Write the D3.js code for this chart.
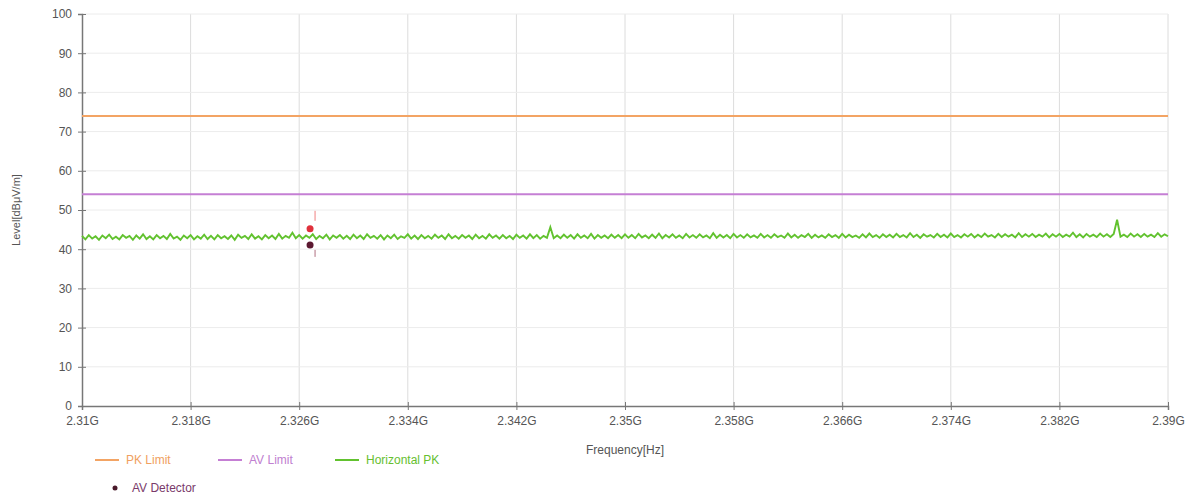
<!DOCTYPE html>
<html>
<head>
<meta charset="utf-8">
<script src="https://cdn.jsdelivr.net/npm/d3@7"></script>
<style>
  body { margin: 0; background: #fff; }
  svg { font-family: "Liberation Sans", Arial, sans-serif; }
</style>
</head>
<body>
<div id="chart"></div>
<script>
// frequency sweep, GHz
const freqStart = 2.31;
const freqStep = 0.00025;
const horizontalPK = [
  43.4,42.5,43.6,42.7,43.3,42.4,43.5,42.8,43.7,42.6,43.2,42.5,43.6,42.9,43.4,42.4,43.5,42.7,43.8,42.6,
  43.3,42.5,43.6,42.8,43.4,42.6,43.9,42.7,43.2,42.4,43.5,42.8,43.6,42.5,43.3,42.7,43.7,42.6,43.4,42.5,
  43.6,42.8,43.3,42.6,43.5,42.4,43.7,42.9,43.4,42.6,43.8,42.7,43.3,42.5,43.6,42.8,43.5,42.6,43.9,42.7,
  43.4,42.9,44.2,42.8,43.6,42.7,43.5,42.9,43.8,42.6,43.4,42.8,43.7,42.5,43.5,42.9,43.6,42.7,43.4,42.6,
  43.7,42.8,43.5,42.6,43.8,42.9,43.4,42.7,43.6,42.5,43.5,42.8,43.7,42.6,43.3,42.9,43.8,42.7,43.5,42.6,
  43.6,42.8,43.4,42.7,43.7,42.9,43.5,42.6,43.8,42.8,43.4,42.7,43.6,42.9,43.5,42.6,43.7,42.8,43.4,42.7,
  43.8,42.9,43.5,42.7,43.6,42.8,43.4,42.6,43.7,42.9,43.5,42.7,43.8,42.8,43.6,42.7,43.4,42.9,45.6,42.8,
  43.5,42.8,43.7,42.9,43.6,42.7,43.8,42.9,43.5,42.8,43.9,42.7,43.6,42.9,43.5,42.8,43.7,42.9,43.6,42.8,
  43.8,42.9,43.6,42.8,43.9,43.0,43.5,42.8,43.7,42.9,44.0,42.8,43.6,43.0,43.8,42.9,43.5,42.8,43.9,43.0,
  43.6,42.9,43.8,43.0,43.5,42.8,44.1,42.9,43.7,43.0,43.6,42.8,43.9,43.0,43.6,42.9,43.8,43.0,43.5,42.9,
  43.9,43.0,43.6,42.9,43.8,43.1,43.5,42.9,44.0,43.0,43.7,42.9,43.6,43.1,43.9,42.9,43.7,43.0,43.5,42.9,
  43.8,43.1,43.6,42.9,43.9,43.0,43.7,43.1,43.5,42.9,43.8,43.0,44.0,43.1,43.6,42.9,43.8,43.1,43.7,43.0,
  43.9,43.1,43.6,43.0,44.1,43.1,43.7,42.9,43.8,43.2,43.6,43.0,43.9,43.1,43.7,43.0,44.0,43.1,43.6,43.0,
  43.8,43.2,43.9,43.0,43.7,43.1,44.0,43.2,43.6,43.0,43.9,43.1,43.8,43.2,43.7,43.0,44.1,43.1,43.8,43.2,
  43.9,43.1,43.7,43.2,44.0,43.0,43.8,43.2,43.9,43.1,43.7,43.2,44.2,43.1,43.8,43.0,43.9,43.2,43.7,43.1,
  44.0,43.2,43.8,43.1,43.9,47.5,43.2,43.7,43.1,44.0,43.2,43.8,43.1,43.9,43.2,43.7,43.1,44.1,43.2,43.8,
  43.3
];
const pkLimit = 74;
const avLimit = 54;
const pkMarker = { f: 2.3268, v: 45.2 };
const avMarker = { f: 2.3268, v: 41.1 };
const xTicks = [2.31, 2.318, 2.326, 2.334, 2.342, 2.35, 2.358, 2.366, 2.374, 2.382, 2.39];
const xTickLabels = ["2.31G","2.318G","2.326G","2.334G","2.342G","2.35G","2.358G","2.366G","2.374G","2.382G","2.39G"];
const yTicks = [0,10,20,30,40,50,60,70,80,90,100];

const traceData = horizontalPK.map((v, i) => ({ f: freqStart + i * freqStep, v: v }));

const W = 1198, H = 501;
const margin = { top: 14, right: 30, bottom: 95, left: 82 };
const width = W - margin.left - margin.right;
const height = H - margin.top - margin.bottom;

const svg = d3.select("#chart").append("svg")
    .attr("width", W)
    .attr("height", H);

const g = svg.append("g")
    .attr("transform", `translate(${margin.left},${margin.top})`);

const x = d3.scaleLinear().domain([2.31, 2.39]).range([0, width]);
const y = d3.scaleLinear().domain([0, 100]).range([height, 0]);

// grid
g.append("g").selectAll("line").data(xTicks.slice(1)).enter().append("line")
    .attr("x1", d => x(d)).attr("x2", d => x(d))
    .attr("y1", 0).attr("y2", height)
    .attr("stroke", "#dcdcdc").attr("stroke-width", 1);
g.append("g").selectAll("line").data(yTicks.slice(1)).enter().append("line")
    .attr("x1", 0).attr("x2", width)
    .attr("y1", d => y(d)).attr("y2", d => y(d))
    .attr("stroke", "#ececec").attr("stroke-width", 1);

// axes
const yAxis = g.append("g")
    .call(d3.axisLeft(y).tickValues(yTicks).tickSize(4).tickPadding(6));
yAxis.selectAll(".tick line").attr("x2", 4).attr("x1", -4).attr("stroke", "#777");
yAxis.select(".domain").attr("stroke", "#777").attr("stroke-width", 1.5);
yAxis.selectAll("text").attr("fill", "#555").style("font-size", "12px");

const xAxis = g.append("g")
    .attr("transform", `translate(0,${height})`)
    .call(d3.axisBottom(x).tickValues(xTicks).tickFormat((d, i) => xTickLabels[i]).tickSize(4).tickPadding(6));
xAxis.selectAll(".tick line").attr("y1", -4).attr("y2", 4).attr("stroke", "#777");
xAxis.select(".domain").attr("stroke", "#777").attr("stroke-width", 1.5);
xAxis.selectAll("text").attr("fill", "#555").style("font-size", "12px");

// limits
g.append("line")
    .attr("x1", 0).attr("x2", width)
    .attr("y1", y(pkLimit)).attr("y2", y(pkLimit))
    .attr("stroke", "#f3a464").attr("stroke-width", 2);
g.append("line")
    .attr("x1", 0).attr("x2", width)
    .attr("y1", y(avLimit)).attr("y2", y(avLimit))
    .attr("stroke", "#c57fd4").attr("stroke-width", 2);

// trace
g.append("path")
    .datum(traceData)
    .attr("fill", "none")
    .attr("stroke", "#62c22f")
    .attr("stroke-width", 1.9)
    .attr("d", d3.line().x(d => x(d.f)).y(d => y(d.v)));

// markers with small leader ticks
g.append("line")
    .attr("x1", x(pkMarker.f) + 5).attr("x2", x(pkMarker.f) + 5)
    .attr("y1", y(pkMarker.v) - 18).attr("y2", y(pkMarker.v) - 8)
    .attr("stroke", "#f08080").attr("stroke-width", 1);
g.append("line")
    .attr("x1", x(avMarker.f) + 5).attr("x2", x(avMarker.f) + 5)
    .attr("y1", y(avMarker.v) + 5).attr("y2", y(avMarker.v) + 12)
    .attr("stroke", "#b07080").attr("stroke-width", 1);
g.append("circle")
    .attr("cx", x(pkMarker.f)).attr("cy", y(pkMarker.v)).attr("r", 3.5)
    .attr("fill", "#e0313c");
g.append("circle")
    .attr("cx", x(avMarker.f)).attr("cy", y(avMarker.v)).attr("r", 3.5)
    .attr("fill", "#5b1830");

// axis titles
svg.append("text")
    .attr("transform", `translate(20,${margin.top + height / 2}) rotate(-90)`)
    .attr("text-anchor", "middle")
    .attr("fill", "#555")
    .style("font-size", "11px")
    .text("Level[dBμV/m]");
svg.append("text")
    .attr("x", margin.left + width / 2)
    .attr("y", 454)
    .attr("text-anchor", "middle")
    .attr("fill", "#555")
    .style("font-size", "12px")
    .text("Frequency[Hz]");

// legend
const legendItems = [
  { name: "PK Limit", color: "#f3a464", text: "#f0a060", x: 95 },
  { name: "AV Limit", color: "#c57fd4", text: "#c080d0", x: 218 },
  { name: "Horizontal PK", color: "#62c22f", text: "#66c030", x: 335 }
];
const legend = svg.append("g");
legendItems.forEach(d => {
  legend.append("line")
      .attr("x1", d.x).attr("x2", d.x + 24)
      .attr("y1", 460).attr("y2", 460)
      .attr("stroke", d.color).attr("stroke-width", 2);
  legend.append("text")
      .attr("x", d.x + 31).attr("y", 464)
      .attr("fill", d.text)
      .style("font-size", "12px")
      .text(d.name);
});
legend.append("circle")
    .attr("cx", 115).attr("cy", 488).attr("r", 2.5)
    .attr("fill", "#4a1a2a");
legend.append("text")
    .attr("x", 132).attr("y", 492)
    .attr("fill", "#7a3a6a")
    .style("font-size", "12px")
    .text("AV Detector");
</script>
</body>
</html>
